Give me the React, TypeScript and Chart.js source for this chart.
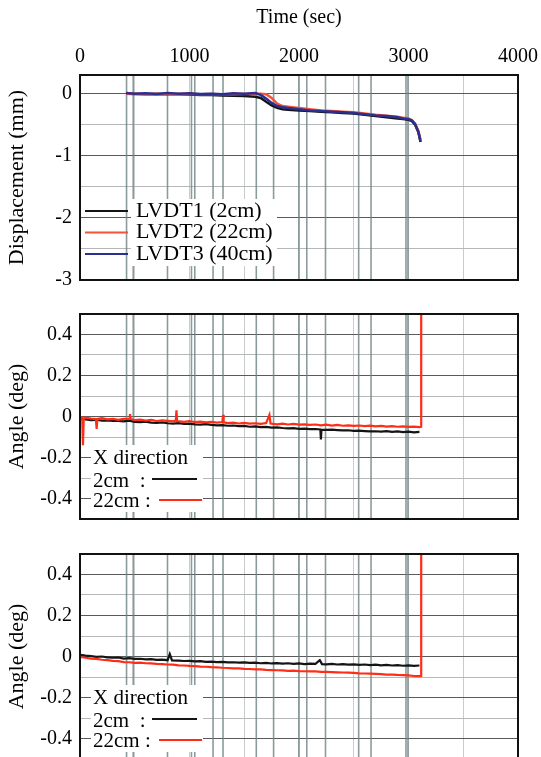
import React, { useEffect, useRef } from "react";
import { Chart, registerables } from "chart.js";
Chart.register(...registerables);

const SERIF = '"Liberation Serif", "DejaVu Serif", serif';

// ---- Shared axis data ----
const xTicks = [0, 500, 1000, 1500, 2000, 2500, 3000, 3500, 4000];
const eventTimes = [425, 486, 799, 1018, 1048, 1215, 1306, 1610, 1768, 1998, 2071, 2242, 2545, 2658, 2977, 2995];
const dispTicks = [-3, -2.5, -2, -1.5, -1, -0.5, 0];
const angleTicks = [-0.5, -0.4, -0.3, -0.2, -0.1, 0, 0.1, 0.2, 0.3, 0.4, 0.5];

// ---- Panel 1: displacement ----
const dispLabels = ["LVDT1 (2cm)", "LVDT2 (22cm)", "LVDT3 (40cm)"];
const dispColors = ["#151515", "#f2553a", "#2a2f90"];
const dispTime = [420, 500, 600, 700, 800, 900, 1000, 1100, 1200, 1300, 1400, 1500, 1600, 1650, 1700, 1750, 1800, 1850, 1900, 2000, 2100, 2200, 2300, 2400, 2500, 2600, 2700, 2800, 2900, 2950, 3000, 3030, 3060, 3090, 3110];
const lvdt1 = [0.00, -0.005, -0.01, -0.005, -0.01, -0.01, -0.015, -0.02, -0.02, -0.03, -0.035, -0.04, -0.05, -0.07, -0.13, -0.19, -0.23, -0.25, -0.26, -0.27, -0.28, -0.29, -0.30, -0.31, -0.32, -0.34, -0.36, -0.38, -0.40, -0.41, -0.42, -0.44, -0.50, -0.62, -0.78];
const lvdt2 = [0.00, 0.00, -0.005, 0.00, -0.005, 0.00, -0.005, -0.01, -0.005, -0.01, -0.01, -0.005, -0.005, 0.00, -0.01, -0.07, -0.16, -0.20, -0.21, -0.23, -0.25, -0.27, -0.28, -0.29, -0.30, -0.32, -0.34, -0.355, -0.37, -0.39, -0.40, -0.43, -0.48, -0.60, -0.74];
const lvdt3 = [0.01, 0.00, 0.005, -0.005, 0.01, 0.00, 0.005, -0.005, 0.00, -0.01, 0.005, 0.00, 0.01, -0.02, -0.08, -0.15, -0.20, -0.22, -0.23, -0.25, -0.27, -0.28, -0.29, -0.30, -0.31, -0.33, -0.35, -0.36, -0.38, -0.40, -0.41, -0.43, -0.49, -0.61, -0.77];

// ---- Angle legend ----
const angleLegendTitle = "X direction";
const angleLabels = ["2cm  :", "22cm :"];
const angleColors = ["#141414", "#ff2d16"];

// ---- Panel 2: angle (first) ----
const mid2cmTime = [0, 50, 100, 150, 200, 250, 300, 350, 400, 450, 500, 550, 600, 650, 700, 750, 800, 850, 900, 950, 1000, 1050, 1100, 1150, 1200, 1250, 1300, 1350, 1400, 1450, 1500, 1550, 1600, 1650, 1700, 1750, 1800, 1850, 1900, 1950, 2000, 2050, 2100, 2150, 2195, 2200, 2205, 2250, 2300, 2350, 2400, 2450, 2500, 2550, 2600, 2650, 2700, 2750, 2800, 2850, 2900, 2950, 3000, 3050, 3100];
const mid2cm = [-0.010, -0.014, -0.018, -0.016, -0.020, -0.019, -0.022, -0.021, -0.024, -0.020, -0.026, -0.027, -0.025, -0.030, -0.031, -0.029, -0.033, -0.035, -0.032, -0.036, -0.035, -0.038, -0.040, -0.037, -0.041, -0.043, -0.042, -0.045, -0.044, -0.047, -0.046, -0.050, -0.048, -0.052, -0.051, -0.054, -0.053, -0.056, -0.058, -0.057, -0.060, -0.059, -0.062, -0.061, -0.063, -0.112, -0.064, -0.065, -0.064, -0.066, -0.068, -0.067, -0.070, -0.069, -0.071, -0.073, -0.072, -0.074, -0.071, -0.075, -0.073, -0.076, -0.074, -0.077, -0.075];
const mid22cmTime = [0, 20, 27, 34, 50, 100, 145, 152, 159, 200, 250, 300, 350, 400, 450, 456, 462, 500, 550, 600, 650, 700, 750, 800, 850, 875, 881, 887, 950, 1000, 1050, 1100, 1150, 1200, 1250, 1300, 1306, 1312, 1350, 1400, 1450, 1500, 1550, 1600, 1650, 1700, 1730, 1740, 1800, 1850, 1900, 1950, 2000, 2050, 2100, 2150, 2200, 2250, 2300, 2350, 2400, 2450, 2500, 2550, 2600, 2650, 2700, 2750, 2800, 2850, 2900, 2950, 3000, 3050, 3100, 3115, 3116];
const mid22cm = [0.000, -0.005, -0.140, -0.010, -0.006, -0.010, -0.012, -0.060, -0.012, -0.008, -0.014, -0.012, -0.016, -0.012, -0.010, 0.012, -0.012, -0.018, -0.015, -0.020, -0.017, -0.022, -0.019, -0.021, -0.024, -0.020, 0.030, -0.022, -0.026, -0.022, -0.027, -0.025, -0.029, -0.026, -0.030, -0.027, 0.008, -0.028, -0.032, -0.030, -0.034, -0.031, -0.035, -0.033, -0.036, -0.032, 0.008, -0.034, -0.038, -0.035, -0.039, -0.036, -0.040, -0.038, -0.041, -0.039, -0.043, -0.040, -0.044, -0.041, -0.045, -0.043, -0.046, -0.044, -0.047, -0.045, -0.048, -0.046, -0.049, -0.047, -0.050, -0.048, -0.051, -0.049, -0.052, -0.050, 3.0];

// ---- Panel 3: angle (second) ----
const low2cmTime = [0, 50, 100, 150, 200, 250, 300, 350, 400, 450, 500, 550, 600, 650, 700, 750, 800, 820, 840, 900, 950, 1000, 1050, 1100, 1150, 1200, 1250, 1300, 1350, 1400, 1450, 1500, 1550, 1600, 1650, 1700, 1750, 1800, 1850, 1900, 1950, 2000, 2050, 2100, 2150, 2190, 2210, 2250, 2300, 2350, 2400, 2450, 2500, 2550, 2600, 2650, 2700, 2750, 2800, 2850, 2900, 2950, 3000, 3050, 3100];
const low2cm = [0.008, 0.004, 0.002, -0.002, 0.000, -0.004, -0.006, -0.005, -0.010, -0.008, -0.012, -0.011, -0.014, -0.013, -0.016, -0.015, -0.018, 0.012, -0.019, -0.020, -0.022, -0.021, -0.024, -0.023, -0.026, -0.025, -0.027, -0.026, -0.029, -0.028, -0.030, -0.029, -0.031, -0.030, -0.033, -0.031, -0.034, -0.032, -0.035, -0.033, -0.036, -0.034, -0.037, -0.035, -0.036, -0.018, -0.037, -0.038, -0.036, -0.039, -0.037, -0.040, -0.038, -0.041, -0.039, -0.042, -0.040, -0.043, -0.041, -0.044, -0.042, -0.045, -0.043, -0.046, -0.044];
const low22cmTime = [0, 50, 100, 150, 200, 250, 300, 350, 400, 450, 500, 550, 600, 650, 700, 750, 800, 850, 900, 950, 1000, 1050, 1100, 1150, 1200, 1250, 1300, 1350, 1400, 1450, 1500, 1550, 1600, 1650, 1700, 1750, 1800, 1850, 1900, 1950, 2000, 2050, 2100, 2150, 2200, 2250, 2300, 2350, 2400, 2450, 2500, 2550, 2600, 2650, 2700, 2750, 2800, 2850, 2900, 2950, 3000, 3050, 3100, 3115, 3116];
const low22cm = [-0.002, -0.006, -0.010, -0.012, -0.016, -0.018, -0.021, -0.023, -0.027, -0.028, -0.031, -0.030, -0.033, -0.034, -0.036, -0.037, -0.039, -0.040, -0.043, -0.044, -0.046, -0.047, -0.049, -0.050, -0.052, -0.053, -0.055, -0.056, -0.058, -0.058, -0.060, -0.061, -0.063, -0.063, -0.065, -0.066, -0.067, -0.068, -0.070, -0.069, -0.071, -0.072, -0.073, -0.073, -0.075, -0.075, -0.076, -0.077, -0.078, -0.079, -0.080, -0.082, -0.083, -0.084, -0.085, -0.086, -0.088, -0.088, -0.090, -0.091, -0.092, -0.095, -0.096, -0.095, 3.0];

// ---- Plugins ----
const eventLinesPlugin = {
  id: "eventLines",
  beforeDatasetsDraw(chart: any, _a: any, opts: any) {
    const { ctx, chartArea, scales } = chart;
    ctx.save();
    ctx.strokeStyle = opts.color;
    ctx.lineWidth = opts.width;
    for (const t of opts.times) {
      const px = scales.x.getPixelForValue(t);
      ctx.beginPath();
      ctx.moveTo(px, chartArea.top);
      ctx.lineTo(px, chartArea.bottom);
      ctx.stroke();
    }
    ctx.restore();
  },
};

const framePlugin = {
  id: "frame",
  afterDraw(chart: any) {
    const { ctx, chartArea: a } = chart;
    ctx.save();
    ctx.strokeStyle = "#111";
    ctx.lineWidth = 2;
    ctx.strokeRect(a.left, a.top, a.right - a.left, a.bottom - a.top);
    ctx.restore();
  },
};

const boxLegendPlugin = {
  id: "boxLegend",
  afterDatasetsDraw(chart: any, _a: any, opts: any) {
    if (!opts || !opts.rows) return;
    const ctx = chart.ctx;
    ctx.save();
    ctx.fillStyle = "#fff";
    const b = opts.box;
    ctx.fillRect(b.x, b.y, b.w, b.h);
    ctx.font = `${opts.size}px ${SERIF}`;
    ctx.textBaseline = "middle";
    ctx.textAlign = "left";
    for (const r of opts.rows) {
      if (r.sample) {
        ctx.strokeStyle = r.sample.color;
        ctx.lineWidth = 2;
        ctx.beginPath();
        ctx.moveTo(r.sample.x1, r.sample.y);
        ctx.lineTo(r.sample.x2, r.sample.y);
        ctx.stroke();
      }
      ctx.fillStyle = "#000";
      ctx.fillText(r.text, r.x, r.y);
    }
    ctx.restore();
  },
};

function lineDs(label: string, xs: number[], ys: number[], color: string, order: number, width = 2) {
  return {
    label,
    data: xs.map((x, i) => ({ x, y: ys[i] })),
    borderColor: color,
    backgroundColor: color,
    borderWidth: width,
    pointRadius: 0,
    tension: 0,
    order,
    clip: 0,
  };
}

function xScale(top: boolean) {
  return {
    type: "linear",
    position: top ? "top" : "bottom",
    min: 0,
    max: 4000,
    afterBuildTicks: (s: any) => {
      s.ticks = xTicks.map((v) => ({ value: v }));
    },
    afterFit: (s: any) => {
      s.height = top ? 75 : 0;
      s.paddingLeft = 0;
      s.paddingRight = 0;
    },
    ticks: {
      display: top,
      padding: 6,
      color: "#000",
      maxRotation: 0,
      autoSkip: false,
      font: { family: SERIF, size: 20 },
      callback: (v: any) => (v % 1000 === 0 ? String(v) : ""),
    },
    grid: { drawTicks: false, color: "#c9cccc", lineWidth: 1 },
    border: { display: false },
    title: {
      display: top,
      text: "Time (sec)",
      color: "#000",
      font: { family: SERIF, size: 20 },
      padding: { top: 6, bottom: 0 },
    },
  };
}

function yScale(kind: "disp" | "angle") {
  const isDisp = kind === "disp";
  const ticksArr = isDisp ? dispTicks : angleTicks;
  return {
    type: "linear",
    min: isDisp ? -3 : -0.5,
    max: isDisp ? 0.3 : 0.5,
    afterBuildTicks: (s: any) => {
      s.ticks = ticksArr.map((v) => ({ value: v }));
    },
    afterFit: (s: any) => {
      s.width = 80;
      s.paddingTop = 0;
      s.paddingBottom = 0;
    },
    ticks: {
      padding: 8,
      color: "#000",
      autoSkip: false,
      font: { family: SERIF, size: 20 },
      callback: (v: any) => {
        if (isDisp) return Number.isInteger(v) ? String(v) : "";
        const tenth = Math.round(v * 10);
        if (Math.abs(tenth) === 5 || Math.abs(tenth) % 2 === 1) return "";
        return tenth === 0 ? "0" : (tenth / 10).toFixed(1);
      },
    },
    grid: {
      drawTicks: false,
      lineWidth: 1,
      color: (c: any) => {
        const v = c.tick ? c.tick.value : 0;
        if (isDisp) return Number.isInteger(v) ? "#5a5a5a" : "#b5b8b8";
        return Math.abs(Math.round(v * 10)) % 2 === 0 ? "#5a5a5a" : "#b5b8b8";
      },
    },
    border: { display: false },
    title: {
      display: true,
      text: isDisp ? "Displacement (mm)" : "Angle (deg)",
      color: "#000",
      font: { family: SERIF, size: 22 },
      padding: { top: 4, bottom: 0 },
    },
  };
}

function baseOptions(kind: "disp" | "angle", legend: any, padTop: number, padBottom: number) {
  return {
    responsive: false,
    maintainAspectRatio: false,
    animation: false,
    events: [],
    layout: { padding: { left: 0, right: 23, top: padTop, bottom: padBottom } },
    scales: { x: xScale(kind === "disp"), y: yScale(kind) },
    plugins: {
      legend: { display: false },
      tooltip: { enabled: false },
      eventLines: { times: eventTimes, color: "rgba(110,130,130,0.8)", width: 1.6 },
      boxLegend: legend,
    },
  };
}

const angleLegend = {
  size: 21,
  box: { x: 91, y: 145, w: 112, h: 67 },
  rows: [
    { text: angleLegendTitle, x: 93, y: 158.5 },
    { text: angleLabels[0], x: 93, y: 181, sample: { x1: 152, x2: 197, y: 179, color: angleColors[0] } },
    { text: angleLabels[1], x: 93, y: 201.5, sample: { x1: 159, x2: 202, y: 200, color: angleColors[1] } },
  ],
};

const dispLegend = {
  size: 22,
  box: { x: 131, y: 199, w: 146, h: 67 },
  rows: dispLabels.map((t, i) => ({
    text: t,
    x: 136,
    y: [211, 232.5, 254][i],
    sample: { x1: 85, x2: 128, y: [211, 232.5, 254][i], color: dispColors[i] },
  })),
};

const plugins = [eventLinesPlugin, boxLegendPlugin, framePlugin];

function makeConfigs(): any[] {
  return [
    {
      type: "line",
      data: {
        datasets: [
          lineDs(dispLabels[0], dispTime, lvdt1, dispColors[0], 2, 2.5),
          lineDs(dispLabels[1], dispTime, lvdt2, dispColors[1], 1, 2.5),
          lineDs(dispLabels[2], dispTime, lvdt3, dispColors[2], 0, 2.5),
        ],
      },
      options: baseOptions("disp", dispLegend, 0, 10),
      plugins,
    },
    {
      type: "line",
      data: {
        datasets: [
          lineDs(angleLabels[0], mid2cmTime, mid2cm, angleColors[0], 1, 2.2),
          lineDs(angleLabels[1], mid22cmTime, mid22cm, angleColors[1], 0, 2.2),
        ],
      },
      options: baseOptions("angle", angleLegend, 14, 11),
      plugins,
    },
    {
      type: "line",
      data: {
        datasets: [
          lineDs(angleLabels[0], low2cmTime, low2cm, angleColors[0], 1, 2.2),
          lineDs(angleLabels[1], low22cmTime, low22cm, angleColors[1], 0, 2.2),
        ],
      },
      options: baseOptions("angle", angleLegend, 14, 11),
      plugins,
    },
  ];
}

function Panel({ idx, top, height }: { idx: number; top: number; height: number }) {
  const ref = useRef<HTMLCanvasElement>(null);
  useEffect(() => {
    const cfg = makeConfigs()[idx];
    const chart = new Chart(ref.current as HTMLCanvasElement, cfg);
    return () => chart.destroy();
  }, [idx]);
  return (
    <canvas
      ref={ref}
      width={541}
      height={height}
      style={{ position: "absolute", left: 0, top, width: 541, height, display: "block" }}
    />
  );
}

export default function App() {
  return (
    <div
      style={{
        position: "fixed",
        left: 0,
        top: 0,
        width: 541,
        height: 757,
        overflow: "hidden",
        background: "#fff",
      }}
    >
      <Panel idx={0} top={0} height={290} />
      <Panel idx={1} top={300} height={230} />
      <Panel idx={2} top={540} height={230} />
    </div>
  );
}
